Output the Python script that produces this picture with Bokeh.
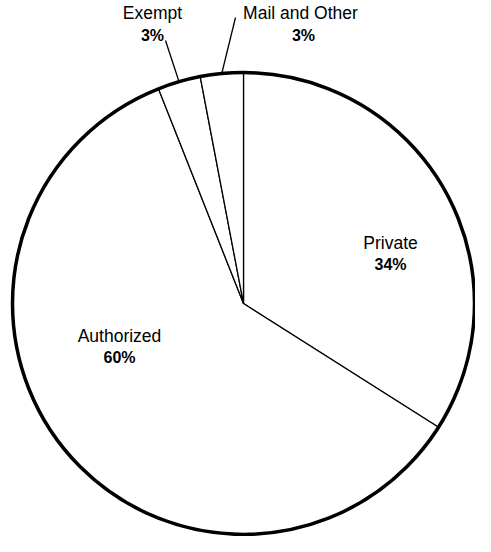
import numpy as np
from bokeh.plotting import figure
from bokeh.models import Range1d, ColumnDataSource
from bokeh.core.properties import value
from bokeh.embed import file_html
from bokeh.resources import INLINE

# ---- data ----
categories = ["Private", "Authorized", "Exempt", "Mail and Other"]
shares = [34, 60, 3, 3]
pct_labels = ["34%", "60%", "3%", "3%"]

# ---- layout (pixel-like coordinates, y measured from top of plot) ----
W, H = 475, 536
CX, CY, R = 243, 303, 231

def sy(y):  # y from top -> data y
    return H - y

frac = np.array(shares, dtype=float) / sum(shares)
cum = np.concatenate([[0], np.cumsum(frac)])
start = np.pi / 2 - cum[:-1] * 2 * np.pi
end = np.pi / 2 - cum[1:] * 2 * np.pi

p = figure(width=W, height=H, output_backend="svg", toolbar_location=None,
           x_range=Range1d(0, W), y_range=Range1d(0, H), min_border=0)
p.axis.visible = False
p.grid.visible = False
p.outline_line_color = None
p.background_fill_color = "white"

src = ColumnDataSource(dict(start=start, end=end, cat=categories))
p.wedge(x=CX, y=sy(CY), radius=R, start_angle="start", end_angle="end",
        direction="clock", source=src, fill_color="white",
        line_color="black", line_width=1.3)
p.circle(x=[CX], y=[sy(CY)], radius=R, fill_color=None,
         line_color="black", line_width=3.5)

# label positions (layout)
name_pos = [(390, 242), (119, 335), (152, 12), (300, 12)]
pct_pos = [(390, 264), (119, 357), (152, 35), (303, 35)]
p.text(x=[q[0] for q in name_pos], y=[sy(q[1]) for q in name_pos], text=categories,
       text_align="center", text_baseline="middle",
       text_font=value("Liberation Sans"), text_font_size="17.5px", text_color="black")
p.text(x=[q[0] for q in pct_pos], y=[sy(q[1]) for q in pct_pos], text=pct_labels,
       text_align="center", text_baseline="middle",
       text_font=value("Liberation Sans"), text_font_size="16px",
       text_font_style="bold", text_color="black")

# leader lines for the two small slices (inner end on rim at mid-angle)
mid = (cum[:-1] + cum[1:]) / 2
ang = np.pi / 2 - mid * 2 * np.pi
x0 = CX + R * np.cos(ang[2:])
y0 = sy(CY) + R * np.sin(ang[2:])
outer = [(165, 40), (235, 17)]
p.segment(x0=x0, y0=y0, x1=[o[0] for o in outer], y1=[sy(o[1]) for o in outer],
          line_color="black", line_width=1.3)

open("out.html", "w").write(file_html(p, INLINE))
